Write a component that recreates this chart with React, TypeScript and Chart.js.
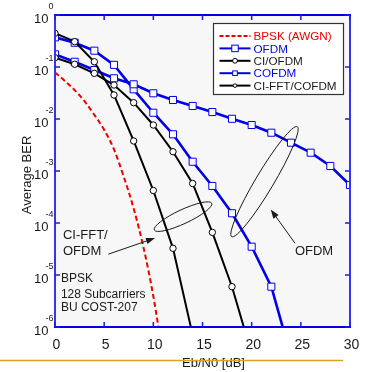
import React, { useEffect, useRef } from "react";
import { Chart, registerables } from "chart.js";

Chart.register(...registerables);

// ---------- data ----------
const bpskSnr = [0, 1, 2, 3, 4, 5, 6, 7, 8, 9, 10, 11];
const bpskBer = [7.86e-2, 5.4e-2, 3.6e-2, 2.2e-2, 1.2e-2, 6.2e-3, 2.6e-3, 7.7e-4, 1.9e-4, 3.4e-5, 3.9e-6, 2.6e-7];

const snrOfdm = [0, 2, 4, 6, 8, 10, 12, 14, 16, 18, 20, 22, 24, 26, 28, 30];
const ofdmBer = [0.175, 0.126, 0.0875, 0.0606, 0.0465, 0.0312, 0.0232, 0.0178, 0.0136, 0.0101, 0.00767, 0.00545, 0.0035, 0.00225, 0.00125, 0.000538];

const snrCofdm = [0, 2, 4, 6, 8, 10, 12, 14, 16, 18, 20, 22, 24];
const cofdmBer = [0.372, 0.293, 0.206, 0.11, 0.0372, 0.0132, 0.00508, 0.00151, 0.000515, 0.000154, 3.5e-5, 5.96e-6, 2.7e-7];

const snrCiOfdm = [0, 2, 4, 6, 8, 10, 12, 14, 16, 18, 20];
const ciOfdmBer = [0.151, 0.113, 0.0755, 0.045, 0.0206, 0.00767, 0.00235, 0.000575, 6.6e-5, 5.96e-6, 3.05e-7];

const snrCiFft = [0, 2, 4, 6, 8, 10, 12, 14];
const ciFftCofdmBer = [0.445, 0.307, 0.126, 0.029, 0.00378, 0.000422, 3.26e-5, 7e-7];

const xTicks = [0, 5, 10, 15, 20, 25, 30];
const yExponents = [0, -1, -2, -3, -4, -5, -6];

const seriesLabels = ["BPSK (AWGN)", "OFDM", "CI/OFDM", "COFDM", "CI-FFT/COFDM"];

const FONT = '"Liberation Sans", Arial, Helvetica, sans-serif';
const BLUE = "#0000e8";
const RED = "#ee0000";
const AXIS = "#3535ee";

const pts = (xs: number[], ys: number[]) => xs.map((x, i) => ({ x, y: ys[i] }));

function arrow(ctx: CanvasRenderingContext2D, x1: number, y1: number, x2: number, y2: number) {
  const ang = Math.atan2(y2 - y1, x2 - x1);
  const len = 9, hw = 3.2;
  ctx.beginPath();
  ctx.moveTo(x1, y1);
  ctx.lineTo(x2 - Math.cos(ang) * len * 0.8, y2 - Math.sin(ang) * len * 0.8);
  ctx.stroke();
  ctx.beginPath();
  ctx.moveTo(x2, y2);
  ctx.lineTo(x2 - Math.cos(ang) * len - Math.sin(ang) * hw, y2 - Math.sin(ang) * len + Math.cos(ang) * hw);
  ctx.lineTo(x2 - Math.cos(ang) * len + Math.sin(ang) * hw, y2 - Math.sin(ang) * len - Math.cos(ang) * hw);
  ctx.closePath();
  ctx.fill();
}

const decorPlugin = {
  id: "decor",
  beforeDatasetsDraw(chart: any) {
    const { ctx, chartArea: a } = chart;
    ctx.save();
    ctx.fillStyle = "#f7f7f7";
    ctx.fillRect(a.left, a.top, a.right - a.left, a.bottom - a.top);
    ctx.restore();
  },
  afterDatasetsDraw(chart: any) {
    const { ctx, chartArea: a } = chart;
    const xs = chart.scales.x;
    const ys = chart.scales.y;
    const px = (v: number) => xs.getPixelForValue(v);
    const py = (e: number) => ys.getPixelForValue(Math.pow(10, e));
    ctx.save();

    // annotations: ellipses
    ctx.strokeStyle = "#1a1a1a";
    ctx.fillStyle = "#1a1a1a";
    ctx.lineWidth = 1;
    const ell = (x1: number, e1: number, x2: number, e2: number, hw: number) => {
      const X1 = px(x1), Y1 = py(e1), X2 = px(x2), Y2 = py(e2);
      const cx = (X1 + X2) / 2, cy = (Y1 + Y2) / 2;
      const r = Math.hypot(X2 - X1, Y2 - Y1) / 2;
      const rot = Math.atan2(Y2 - Y1, X2 - X1);
      ctx.beginPath();
      ctx.ellipse(cx, cy, r, hw, rot, 0, Math.PI * 2);
      ctx.stroke();
    };
    ell(10.1, -4.135, 15.94, -3.62, 7);
    ell(17.97, -4.263, 24.64, -2.148, 9);
    arrow(ctx, px(5.42), py(-4.6), px(10.17), py(-4.29));
    arrow(ctx, px(24.41), py(-4.39), px(21.94), py(-3.74));

    ctx.font = `13px ${FONT}`;
    ctx.textAlign = "left";
    ctx.textBaseline = "middle";
    ctx.fillText("CI-FFT/", px(0.81), py(-4.23));
    ctx.fillText("OFDM", px(0.81), py(-4.55));
    ctx.fillText("OFDM", px(24.4), py(-4.55));
    ctx.font = `12px ${FONT}`;
    ctx.fillText("BPSK", px(0.6), py(-5.08));
    ctx.fillText("128 Subcarriers", px(0.6), py(-5.37));
    ctx.fillText("BU COST-207", px(0.6), py(-5.63));

    // frame
    ctx.lineWidth = 2;
    ctx.strokeStyle = AXIS;
    ctx.beginPath();
    ctx.moveTo(a.left, a.bottom);
    ctx.lineTo(a.left, a.top);
    ctx.moveTo(a.right, a.top);
    ctx.lineTo(a.right, a.bottom);
    ctx.stroke();
    ctx.strokeStyle = "#0000e6";
    ctx.beginPath();
    ctx.moveTo(a.left - 1, a.top);
    ctx.lineTo(a.right + 1, a.top);
    ctx.moveTo(a.left - 1, a.bottom);
    ctx.lineTo(a.right + 1, a.bottom);
    ctx.stroke();

    // ticks
    ctx.lineWidth = 1.5;
    ctx.strokeStyle = "#1c1ce8";
    ctx.beginPath();
    xTicks.forEach((t) => {
      const x = px(t);
      ctx.moveTo(x, a.bottom);
      ctx.lineTo(x, a.bottom - 5);
      ctx.moveTo(x, a.top);
      ctx.lineTo(x, a.top + 5);
    });
    yExponents.forEach((e) => {
      const y = py(e);
      ctx.moveTo(a.left, y);
      ctx.lineTo(a.left + 5, y);
      ctx.moveTo(a.right, y);
      ctx.lineTo(a.right - 5, y);
    });
    ctx.stroke();

    // tick labels
    ctx.fillStyle = "#1a1a1a";
    ctx.font = `14px ${FONT}`;
    ctx.textAlign = "center";
    ctx.textBaseline = "middle";
    xTicks.forEach((t) => ctx.fillText(String(t), px(t) + 1.5, a.bottom + 18));
    yExponents.forEach((e) => {
      const y = py(e);
      ctx.font = `13px ${FONT}`;
      ctx.textAlign = "right";
      ctx.fillText("10", a.left - 6.5, y + 4);
      ctx.font = `9px ${FONT}`;
      ctx.fillText(e === 0 ? "0" : "-" + Math.abs(e), a.left - 1.5, y - 8);
    });

    // axis titles
    ctx.font = `13px ${FONT}`;
    ctx.textAlign = "center";
    ctx.fillText("Eb/N0 [dB]", (a.left + a.right) / 2 + 11, a.bottom + 36);
    ctx.save();
    ctx.translate(27, (a.top + a.bottom) / 2 + 4);
    ctx.rotate(-Math.PI / 2);
    ctx.fillText("Average BER", 0, 0);
    ctx.restore();

    // orange rule
    ctx.strokeStyle = "#dba224";
    ctx.lineWidth = 1.5;
    ctx.beginPath();
    ctx.moveTo(0, a.bottom + 33.5);
    ctx.lineTo(343, a.bottom + 33.5);
    ctx.stroke();

    // legend
    const lx = a.right - 136.5, ly = a.top + 8.5, lw = 130, lh = 71;
    ctx.fillStyle = "#ffffff";
    ctx.fillRect(lx, ly, lw, lh);
    ctx.strokeStyle = "#333333";
    ctx.lineWidth = 1.2;
    ctx.strokeRect(lx, ly, lw, lh);
    const rows = [
      { color: RED, dash: [4, 2], marker: "none", size: 0, text: RED },
      { color: BLUE, dash: [], marker: "rect", size: 6.5, text: BLUE },
      { color: "#000", dash: [], marker: "circle", size: 2.4, text: "#1a1a1a" },
      { color: BLUE, dash: [], marker: "rect", size: 4.6, text: BLUE },
      { color: "#000", dash: [], marker: "circle", size: 1.8, text: "#1a1a1a" },
    ];
    const ds = chart.data.datasets;
    rows.forEach((r, i) => {
      const y = ly + 12.5 + i * 12.4;
      const x0 = lx + 6, x1 = lx + 37, xm = (x0 + x1) / 2;
      ctx.strokeStyle = r.color;
      ctx.lineWidth = 2;
      ctx.setLineDash(r.dash);
      ctx.beginPath();
      ctx.moveTo(x0, y);
      ctx.lineTo(x1, y);
      ctx.stroke();
      ctx.setLineDash([]);
      ctx.lineWidth = 1;
      ctx.fillStyle = "#fff";
      if (r.marker === "rect") {
        ctx.fillRect(xm - r.size / 2, y - r.size / 2, r.size, r.size);
        ctx.strokeRect(xm - r.size / 2, y - r.size / 2, r.size, r.size);
      } else if (r.marker === "circle") {
        ctx.beginPath();
        ctx.arc(xm, y, r.size, 0, Math.PI * 2);
        ctx.fill();
        ctx.stroke();
      }
      ctx.fillStyle = r.text;
      ctx.font = `11.7px ${FONT}`;
      ctx.textAlign = "left";
      ctx.textBaseline = "middle";
      ctx.fillText(ds[i].label, x1 + 3, y + 1);
    });

    ctx.restore();
  },
};

export default function App() {
  const ref = useRef<HTMLCanvasElement>(null);
  useEffect(() => {
    document.body.style.margin = "0";
    const lineCommon = { fill: false, tension: 0, pointBackgroundColor: "#ffffff", pointBorderWidth: 1, pointHoverRadius: 0 };
    const chart = new Chart(ref.current as HTMLCanvasElement, {
      type: "line",
      data: {
        datasets: [
          {
            label: seriesLabels[0],
            data: pts(bpskSnr, bpskBer),
            borderColor: RED,
            borderWidth: 2,
            borderDash: [5, 3],
            pointRadius: 0,
            fill: false,
            cubicInterpolationMode: "monotone",
            order: 5,
          },
          {
            label: seriesLabels[1],
            data: pts(snrOfdm, ofdmBer),
            borderColor: BLUE,
            borderWidth: 2.6,
            pointStyle: "rect",
            pointRadius: 5,
            pointBorderColor: BLUE,
            order: 3,
            ...lineCommon,
          },
          {
            label: seriesLabels[2],
            data: pts(snrCiOfdm, ciOfdmBer),
            borderColor: "#000000",
            borderWidth: 2,
            pointStyle: "circle",
            pointRadius: 3.2,
            pointBorderColor: "#000000",
            order: 1,
            ...lineCommon,
          },
          {
            label: seriesLabels[3],
            data: pts(snrCofdm, cofdmBer),
            borderColor: BLUE,
            borderWidth: 2.6,
            pointStyle: "rect",
            pointRadius: 5,
            pointBorderColor: BLUE,
            order: 4,
            ...lineCommon,
          },
          {
            label: seriesLabels[4],
            data: pts(snrCiFft, ciFftCofdmBer),
            borderColor: "#000000",
            borderWidth: 2,
            pointStyle: "circle",
            pointRadius: 3.2,
            pointBorderColor: "#000000",
            order: 2,
            ...lineCommon,
          },
        ],
      },
      options: {
        animation: false,
        responsive: false,
        devicePixelRatio: 1,
        layout: { padding: { left: 55, top: 15, right: 15, bottom: 45 } },
        scales: {
          x: { type: "linear", min: 0, max: 30, display: false },
          y: { type: "logarithmic", min: 1e-6, max: 1, display: false },
        },
        plugins: { legend: { display: false }, tooltip: { enabled: false } },
        events: [],
      },
      plugins: [decorPlugin],
    } as any);
    return () => chart.destroy();
  }, []);
  return (
    <div style={{ width: 365, height: 372 }}>
      <canvas ref={ref} width={365} height={372} style={{ display: "block" }} />
    </div>
  );
}
